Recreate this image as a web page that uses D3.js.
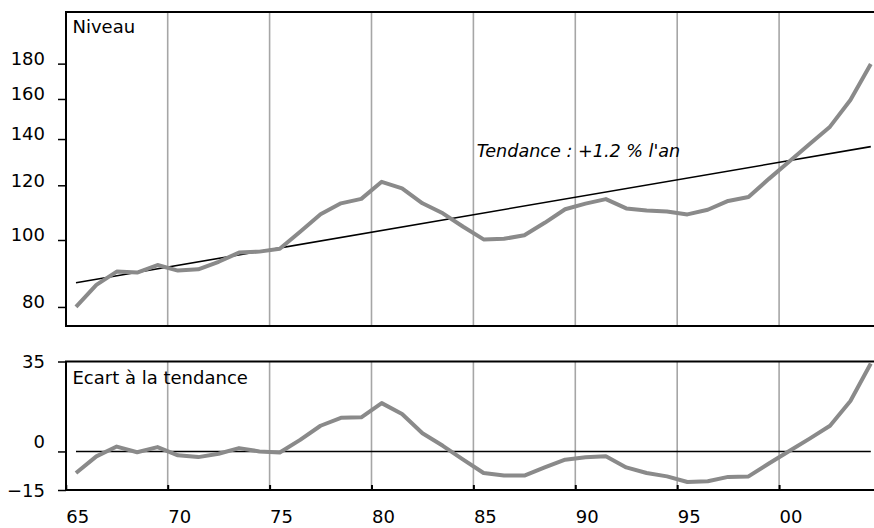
<!DOCTYPE html>
<html>
<head>
<meta charset="utf-8">
<script src="https://cdn.jsdelivr.net/npm/d3@7"></script>
<style>
  html,body{margin:0;padding:0;background:#fff;}
  svg{display:block;font-family:"DejaVu Sans",Verdana,sans-serif;}
</style>
</head>
<body>
<svg id="chart" width="874" height="528"></svg>
<script>
// Niveau (échelle log) + écart à la tendance, 1965-2004

// ── DONNÉES ───────────────────────────────────────────────────────────────
var years=d3.range(1965,2005); // points placés en milieu d'année
var niveau=[80.0,86.1,90.0,89.7,92.0,90.3,90.7,93.0,95.9,96.2,
            97.1,102.8,109.0,113.0,114.7,121.4,118.8,113.0,109.3,104.5,
            100.2,100.4,101.6,105.9,110.8,112.9,114.6,111.1,110.3,110.0,
            108.9,110.6,113.9,115.4,122.6,129.9,137.7,145.9,159.5,179.8];
var ecart=[-8.4,-1.9,1.9,-0.3,1.7,-1.5,-2.2,-0.9,1.3,0.0,
           -0.4,4.5,10.0,13.1,13.3,18.8,14.6,7.1,2.2,-3.2,
           -8.4,-9.4,-9.4,-6.2,-3.2,-2.3,-1.9,-6.2,-8.4,-9.7,
           -11.9,-11.6,-9.9,-9.7,-4.7,0.2,5.0,10.0,19.6,34.2];
var trendYears=[1965.5,2004.5];
var trendValues=[86.7,136.5];
var gridYears=[1970,1975,1980,1985,1990,1995,2000];
var xTickYears=[1965,1970,1975,1980,1985,1990,1995,2000];
var topTicks=[80,100,120,140,160,180];
var botTicks=[-15,0,35];

// ── MISE EN PAGE ──────────────────────────────────────────────────────────
var W=874,L=66;
var TOP={y0:12,y1:326},BOT={y0:361.5,y1:490};
var GREY="#8a8a8a",GRID="#a6a6a6";
var FONT="'DejaVu Sans',Verdana,sans-serif";

var svg=d3.select("#chart");
var x=d3.scaleLinear().domain([1965,2004.5]).range([65.8,870.8]);
var yTop=d3.scaleLog().domain([75.08,213.8]).range([TOP.y1,TOP.y0]);
var yBot=d3.scaleLinear().domain([-15,35]).range([BOT.y1,BOT.y0]);

// Quadrillage vertical (gris), sur les deux panneaux
[TOP,BOT].forEach(function(p){
  svg.append("g").selectAll("line").data(gridYears).enter().append("line")
    .attr("x1",function(d){return x(d);}).attr("x2",function(d){return x(d);})
    .attr("y1",p.y0).attr("y2",p.y1)
    .attr("stroke",GRID).attr("stroke-width",1.6);
});

// Cadres : gauche, haut, bas (pas de bord droit)
function frame(p){
  var g=svg.append("g").attr("stroke","#000").attr("stroke-width",2).attr("fill","none");
  g.append("path").attr("d","M"+W+","+p.y0+"H"+L+"V"+p.y1+"H"+W);
}
frame(TOP);frame(BOT);

// Axes Y
var axTop=d3.axisLeft(yTop).tickValues(topTicks).tickSize(8).tickPadding(13).tickFormat(d3.format("d"));
var gTop=svg.append("g").attr("transform","translate("+L+",0)").call(axTop);
var axBot=d3.axisLeft(yBot).tickValues(botTicks).tickSize(8).tickPadding(13).tickFormat(d3.format("d"));
var gBot=svg.append("g").attr("transform","translate("+L+",0)").call(axBot);
[gTop,gBot].forEach(function(g){
  g.select(".domain").remove();
  g.selectAll(".tick line").attr("stroke","#000").attr("stroke-width",1.5);
  g.selectAll(".tick text").attr("fill","#000").style("font-size","18px").style("font-family",FONT);
});
gTop.selectAll(".tick text").attr("dy","0.05em");
gBot.selectAll(".tick text").attr("dy",function(d){return d===0?"-0.2em":"0.36em";});

// Axe X (ticks vers l'intérieur, libellés alignés à gauche du tick)
var axX=d3.axisBottom(x).tickValues(xTickYears).tickSize(-5).tickPadding(0)
  .tickFormat(function(d){return String(d).slice(2);});
var gX=svg.append("g").attr("transform","translate(0,"+BOT.y1+")").call(axX);
gX.select(".domain").remove();
gX.selectAll(".tick line").attr("stroke","#000").attr("stroke-width",2);
gX.selectAll(".tick text").attr("fill","#000").attr("text-anchor","start")
  .attr("y",33).attr("dy",0).style("font-size","18px").style("font-family",FONT);

// Tendance (droite sur échelle log) et ligne zéro
svg.append("path")
  .datum(d3.zip(trendYears,trendValues))
  .attr("fill","none").attr("stroke","#000").attr("stroke-width",1.6)
  .attr("d",d3.line().x(function(d){return x(d[0]);}).y(function(d){return yTop(d[1]);}));
svg.append("path")
  .datum(d3.zip(trendYears,[0,0]))
  .attr("fill","none").attr("stroke","#000").attr("stroke-width",1.6)
  .attr("d",d3.line().x(function(d){return x(d[0]);}).y(function(d){return yBot(d[1]);}));

// Séries
svg.append("path")
  .datum(d3.zip(years,niveau))
  .attr("fill","none").attr("stroke",GREY).attr("stroke-width",4).attr("stroke-linejoin","round")
  .attr("d",d3.line().x(function(d){return x(d[0]+0.5);}).y(function(d){return yTop(d[1]);}));
svg.append("path")
  .datum(d3.zip(years,ecart))
  .attr("fill","none").attr("stroke",GREY).attr("stroke-width",4).attr("stroke-linejoin","round")
  .attr("d",d3.line().x(function(d){return x(d[0]+0.5);}).y(function(d){return yBot(d[1]);}));

// Textes
svg.append("text").attr("x",72.5).attr("y",33.3).style("font-size","18px").text("Niveau");
svg.append("text").attr("x",72.5).attr("y",384).style("font-size","18px").text("Ecart à la tendance");
svg.append("text").attr("x",476.7).attr("y",156.7).style("font-size","17.6px").style("font-style","italic")
  .text("Tendance : +1.2 % l'an");
</script>
</body>
</html>
